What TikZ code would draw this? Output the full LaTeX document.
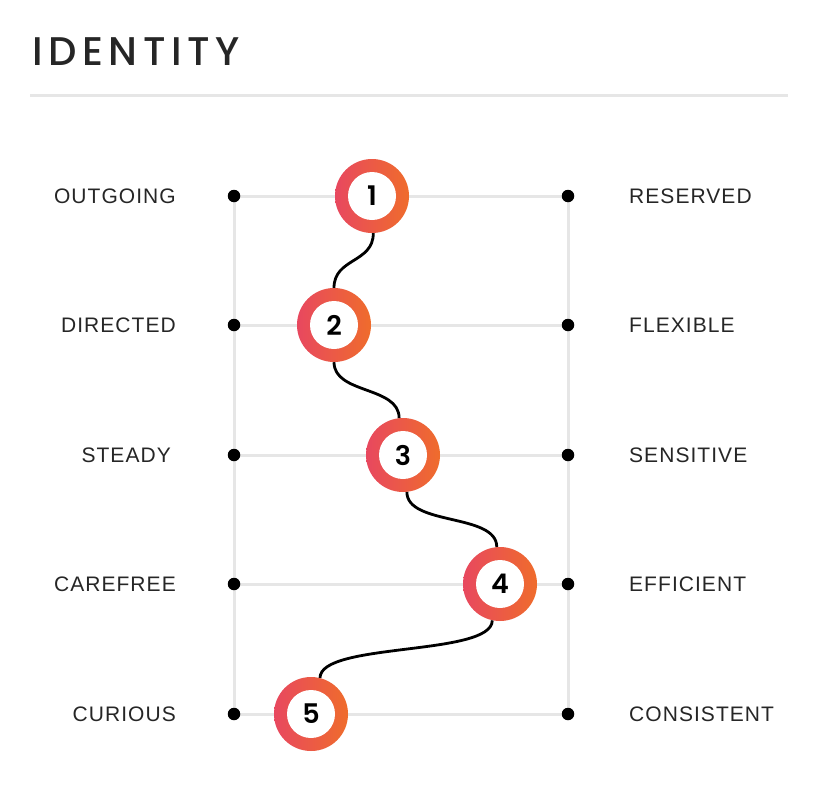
\documentclass[tikz,border=0pt]{standalone}
\usepackage{fontspec}
\setmainfont{Liberation Sans}
\newfontfamily\titlefont[LetterSpace=14]{Poppins Medium}
\newfontfamily\digitfont{Poppins SemiBold}
\newfontfamily\labelfont[LetterSpace=5]{Liberation Sans}
\definecolor{ringL}{HTML}{E8485F}
\definecolor{ringR}{HTML}{EF6C2C}
\definecolor{gridc}{HTML}{E6E6E6}
\definecolor{txt}{HTML}{262626}
\tikzset{
  ring/.style={circle, minimum size=74pt, inner sep=0pt, draw=none, left color=ringL, right color=ringR},
  core/.style={circle, minimum size=48pt, inner sep=0pt, fill=white, font=\digitfont\fontsize{27}{27}\selectfont, text=black},
  grid/.style={draw=gridc, line width=3pt},
  dotc/.style={circle, fill=black, minimum size=12.5pt, inner sep=0pt},
  lbl/.style={font=\labelfont\fontsize{21}{21}\selectfont, text=txt, inner sep=0pt},
  link/.style={draw=black, line width=2.8pt},
}
\begin{document}
\begin{tikzpicture}[x=1pt,y=-1pt]
\useasboundingbox (0,0) rectangle (818,800);
\fill[white] (0,0) rectangle (818,800);
% title
\node[anchor=base west, inner sep=0pt, font=\titlefont\fontsize{40}{40}\selectfont, text=txt] (title) at (32,66) {IDENTITY};
\coordinate (ruleL) at (30,95);
\coordinate (ruleR) at (788,95);
\draw[draw=gridc, line width=3pt] (ruleL) -- (ruleR);
% grid endpoints
\foreach \i/\y in {1/196,2/325,3/455,4/584,5/714}{
  \coordinate (L\i) at (234,\y);
  \coordinate (R\i) at (568,\y);
}
\draw[grid] (L1) -- (L5);
\draw[grid] (R1) -- (R5);
\foreach \i in {1,...,5}{
  \draw[grid] (L\i) -- (R\i);
}
\foreach \i in {1,...,5}{
  \node[dotc] (dl\i) at (L\i) {};
  \node[dotc] (dr\i) at (R\i) {};
}
% labels
\node[lbl, anchor=east] (l1) at (176,196) {OUTGOING};
\node[lbl, anchor=east] (l2) at (176,325) {DIRECTED};
\node[lbl, anchor=east] (l3) at (171,455) {STEADY};
\node[lbl, anchor=east] (l4) at (176,584) {CAREFREE};
\node[lbl, anchor=east] (l5) at (176,714) {CURIOUS};
\node[lbl, anchor=west] (r1) at (629,196) {RESERVED};
\node[lbl, anchor=west] (r2) at (629,325) {FLEXIBLE};
\node[lbl, anchor=west] (r3) at (629,455) {SENSITIVE};
\node[lbl, anchor=west] (r4) at (629,584) {EFFICIENT};
\node[lbl, anchor=west] (r5) at (629,714) {CONSISTENT};
% rings
\node[ring] (n1) at (372,196) {};
\node[ring] (n2) at (334,325) {};
\node[ring] (n3) at (403,455) {};
\node[ring] (n4) at (500,584) {};
\node[ring] (n5) at (311,714) {};
% connectors
\draw[link] (n1.272) .. controls +(0,30) and +(0,-30) .. (n2.90);
\draw[link] (n2.270) .. controls +(0,32) and +(0,-32) .. (n3.96);
\draw[link] (n3.276) .. controls +(0,34) and +(0,-34) .. (n4.95);
\draw[link] (n4.258) .. controls +(0,36) and +(0,-36) .. (n5.76);
% centres
\node[core] (c1) at (n1) {1};
\node[core] (c2) at (n2) {2};
\node[core] (c3) at (n3) {3};
\node[core] (c4) at (n4) {4};
\node[core] (c5) at (n5) {5};
\end{tikzpicture}
\end{document}
